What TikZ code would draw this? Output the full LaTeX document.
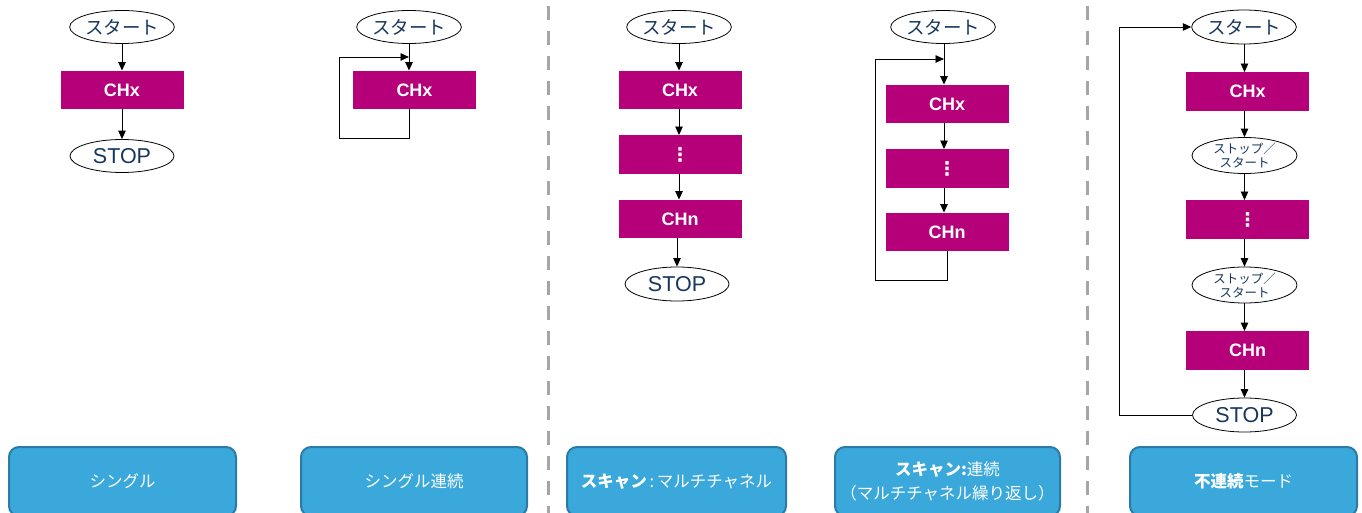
\documentclass[tikz,border=0pt]{standalone}
\usepackage{fontspec}
\setmainfont{Liberation Sans}
\newfontfamily\jp{Noto Sans CJK JP}
\newfontfamily\dejavu{DejaVu Sans}
\usetikzlibrary{shapes.geometric,arrows.meta}
\definecolor{mag}{HTML}{B6007A}
\definecolor{navy}{HTML}{17375E}
\definecolor{boxfill}{HTML}{3AA8DB}
\definecolor{boxline}{HTML}{2A7CA6}
\definecolor{divgray}{HTML}{A6A6A6}
\begin{document}
\begin{tikzpicture}[x=1pt,y=-1pt,
 term/.style={ellipse,draw=black,line width=0.8pt,fill=white,minimum width=104pt,minimum height=33pt,inner sep=0pt,text=navy,font=\jp\fontsize{18.5}{20}\selectfont},
 stopt/.style={term,font=\fontsize{21.5}{22}\selectfont},
 sst/.style={term,minimum width=105pt,minimum height=36pt,font=\jp\fontsize{12.5}{14}\selectfont,align=center},
 chbox/.style={rectangle,fill=mag,minimum width=123pt,minimum height=38.5pt,inner sep=0pt,text=white,font=\bfseries\fontsize{18}{18}\selectfont},
 dotbox/.style={chbox,font=\dejavu\bfseries\fontsize{19}{19}\selectfont},
 modebox/.style={rectangle,rounded corners=10pt,draw=boxline,line width=2pt,fill=boxfill,minimum height=69pt,inner sep=0pt,text=white,font=\jp\fontsize{16.5}{24.5}\selectfont,align=center},
 arr/.style={-{Triangle[length=8.5pt,width=7.5pt]},line width=0.9pt,black},
 divider/.style={divgray,line width=3pt,dash pattern=on 14pt off 11pt}
]
\useasboundingbox (0,0) rectangle (1362,513);
\clip (0,0) rectangle (1362,513);

% dividers
\draw[divider] (548,6) -- (548,513);
\draw[divider] (1087,6) -- (1087,513);

% column 1: single
\node[term] (st1) at (122,27) {スタート};
\node[chbox] (ch1) at (122,90) {CHx};
\node[stopt] (sp1) at (122,156) {STOP};
\draw[arr] (st1.south) -- (ch1.north);
\draw[arr] (ch1.south) -- (sp1.north);

% column 2: single continuous
\node[term] (st2) at (409,27) {スタート};
\node[chbox] (ch2) at (414.5,90) {CHx};
\coordinate (c2a) at (409,138);
\coordinate (c2b) at (339,138);
\coordinate (c2c) at (339,57);
\coordinate (c2d) at (409,57);
\draw[arr] (st2.south) -- (st2.south |- ch2.north);
\draw[arr] (ch2.south -| c2a) -- (c2a) -- (c2b) -- (c2c) -- (c2d);

% column 3: scan
\node[term] (st3) at (679,27) {スタート};
\node[chbox] (ch3a) at (680,90) {CHx};
\node[dotbox] (ch3b) at (680,154.5) {⋮};
\node[chbox] (ch3c) at (680,219) {CHn};
\node[stopt,minimum height=34pt] (sp3) at (677,284) {STOP};
\draw[arr] (st3.south) -- (st3.south |- ch3a.north);
\draw[arr] (ch3a.south -| st3) -- (ch3b.north -| st3);
\draw[arr] (ch3b.south -| st3) -- (ch3c.north -| st3);
\draw[arr] (ch3c.south -| sp3) -- (sp3.north);

% column 4: scan continuous
\node[term] (st4) at (943,27) {スタート};
\node[chbox] (ch4a) at (947,104) {CHx};
\node[dotbox] (ch4b) at (947,168.5) {⋮};
\node[chbox] (ch4c) at (947,232) {CHn};
\coordinate (c4a) at (947,280);
\coordinate (c4b) at (875,280);
\coordinate (c4c) at (875,59);
\coordinate (c4d) at (944,59);
\draw[arr] (st4.south -| c4d) -- (ch4a.north -| c4d);
\draw[arr] (ch4a.south -| c4d) -- (ch4b.north -| c4d);
\draw[arr] (ch4b.south -| c4d) -- (ch4c.north -| c4d);
\draw[arr] (ch4c.south -| c4a) -- (c4a) -- (c4b) -- (c4c) -- (c4d);

% column 5: discontinuous
\node[term,minimum height=34pt] (st5) at (1244,27) {スタート};
\node[chbox] (ch5a) at (1247.5,91.5) {CHx};
\node[sst] (ss5a) at (1244.5,155.5) {ストップ／\\スタート};
\node[dotbox] (ch5b) at (1247.5,219.5) {⋮};
\node[sst] (ss5b) at (1244.5,285) {ストップ／\\スタート};
\node[chbox] (ch5c) at (1247.5,350.5) {CHn};
\node[stopt,minimum height=34pt] (sp5) at (1244.5,415) {STOP};
\coordinate (c5a) at (1119,415);
\coordinate (c5b) at (1119,27);
\draw[arr] (st5.south -| ss5a) -- (ch5a.north -| ss5a);
\draw[arr] (ch5a.south -| ss5a) -- (ss5a.north);
\draw[arr] (ss5a.south) -- (ch5b.north -| ss5a);
\draw[arr] (ch5b.south -| ss5a) -- (ss5b.north);
\draw[arr] (ss5b.south) -- (ch5c.north -| ss5b);
\draw[arr] (ch5c.south -| sp5) -- (sp5.north);
\draw[arr] (sp5.west) -- (c5a) -- (c5b) -- (st5.west);

% mode labels
\node[modebox,minimum width=227pt] (m1) at (122.5,481.5) {シングル};
\node[modebox,minimum width=226pt] (m2) at (414,481.5) {シングル連続};
\node[modebox,minimum width=219pt] (m3) at (676.5,481.5) {{\bfseries スキャン}\,:\,マルチチャネル};
\node[modebox,minimum width=225pt] (m4) at (947.5,481.5) {{\bfseries スキャン:}連続\\（マルチチャネル繰り返し）};
\node[modebox,minimum width=227pt] (m5) at (1243.5,481.5) {{\bfseries 不連続}モード};
\end{tikzpicture}
\end{document}
